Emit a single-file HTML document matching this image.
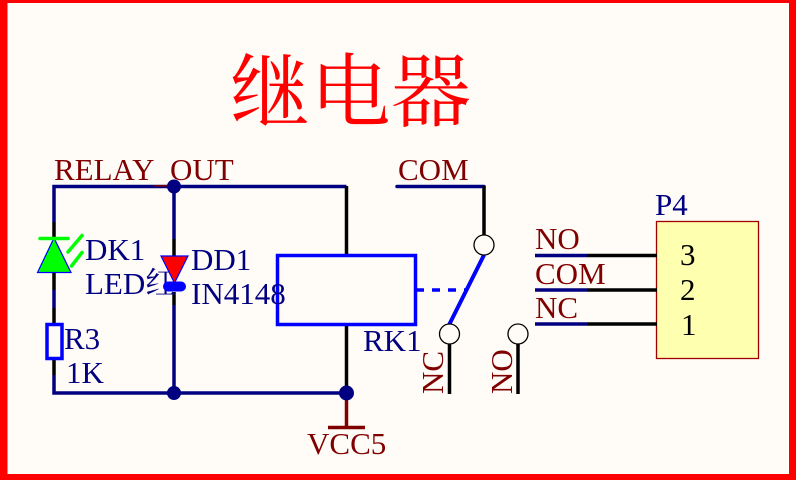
<!DOCTYPE html>
<html><head><meta charset="utf-8"><style>
html,body{margin:0;padding:0;background:#fffcf8}
svg{display:block}
text{font-family:"Liberation Serif","Noto Serif CJK SC",serif;font-size:31px}
.n{fill:#000080}.m{fill:#800000}
</style></head><body>
<svg width="796" height="480" viewBox="0 0 796 480" xmlns="http://www.w3.org/2000/svg">
<rect width="796" height="480" fill="#ff0000"/>
<rect x="7.500" y="3" width="781.500" height="471" fill="#fffcf8"/>
<text x="230" y="120" style="font-size:80px;font-family:'Noto Serif CJK SC',serif" fill="#ff0000" textLength="241" lengthAdjust="spacing">继电器</text>

<!-- Connector body -->
<rect x="656.500" y="221.500" width="102" height="137" fill="#ffffb0" stroke="#a00000" stroke-width="1.300"/>

<g fill="none" stroke-width="3.500" stroke-linecap="butt">
<path d="M54 222V186.500H346.500M174 186.500V239M174 305V393M54 290V308M54 375V393H346" stroke="#000080"/>
<path d="M54 222V238M54 273V290M54 308V324M54 360V375M174 239V256M174 292V305M346.500 186V255M346.500 324V393" stroke="#000"/>
<path d="M346.500 393V428" stroke="#800000"/>
<path d="M328 427.500H365" stroke="#800000" stroke-width="3.500"/>
<path d="M397 186.500H484" stroke="#000080" stroke-linecap="round"/>
<path d="M484 186V236M449.500 344V394M518 344V394" stroke="#000"/>
<path d="M535 255.500H587M535 290H587M535 324H587" stroke="#000080"/>
<path d="M587 255.500H657M587 290H657M587 324H657" stroke="#000"/>
</g>

<text class="m" x="54" y="180">RELAY<tspan dy="2.500">_</tspan><tspan dy="-2.500">OUT</tspan></text>

<circle cx="174" cy="186.500" r="7" fill="#000080"/>
<circle cx="174" cy="393" r="7" fill="#000080"/>
<circle cx="346.500" cy="393" r="7.500" fill="#000080"/>

<text class="n" x="85" y="294">LED红</text>

<!-- LED -->
<polygon points="54,238 37.500,272.500 71,272.500" fill="#00ff00" stroke="#0000ff" stroke-width="1.200"/>
<path d="M40 238.500H68M68 252L82 235.500M71.500 266L82 252.500" stroke="#00ff00" stroke-width="3.500" stroke-linecap="round" fill="none"/>

<!-- Diode -->
<polygon points="161,256 188,256 174.500,283" fill="#ff0000" stroke="#0000ff" stroke-width="1.200"/>
<rect x="163" y="281.500" width="23" height="10" rx="5" fill="#0000ff"/>

<!-- Resistor -->
<rect x="47" y="324.500" width="15" height="34" fill="#fffcf8" stroke="#0000ff" stroke-width="3.500"/>

<!-- Relay -->
<rect x="277.500" y="255.500" width="138" height="69" fill="none" stroke="#0000ff" stroke-width="3.500"/>
<path d="M416 290H467" stroke="#0000ff" stroke-width="3.500" stroke-dasharray="8 8" fill="none"/>
<path d="M484 255L449 325" stroke="#0000ff" stroke-width="4" fill="none"/>
<circle cx="484" cy="245" r="10" fill="#fffcf8" stroke="#000" stroke-width="1.300"/>
<circle cx="449.500" cy="334" r="10" fill="#fffcf8" stroke="#000" stroke-width="1.300"/>
<circle cx="518" cy="334" r="10" fill="#fffcf8" stroke="#000" stroke-width="1.300"/>

<text x="680" y="265" fill="#000">3</text>
<text x="680" y="300" fill="#000">2</text>
<text x="681" y="335" fill="#000">1</text>

<!-- Labels -->
<text class="m" x="398" y="180">COM</text>
<text class="m" x="535" y="249">NO</text>
<text class="m" x="535" y="284">COM</text>
<text class="m" x="535" y="318">NC</text>
<text class="m" x="307" y="454">VCC5</text>
<text class="m" transform="translate(443,394) rotate(-90)">NC</text>
<text class="m" transform="translate(512,394) rotate(-90)">NO</text>
<text class="n" x="85" y="260">DK1</text>
<text class="n" x="191" y="270">DD1</text>
<text class="n" x="191" y="304">IN4148</text>
<text class="n" x="64" y="349">R3</text>
<text class="n" x="66" y="383">1K</text>
<text class="n" x="363" y="351">RK1</text>
<text class="n" x="655" y="215">P4</text>
</svg>
</body></html>
